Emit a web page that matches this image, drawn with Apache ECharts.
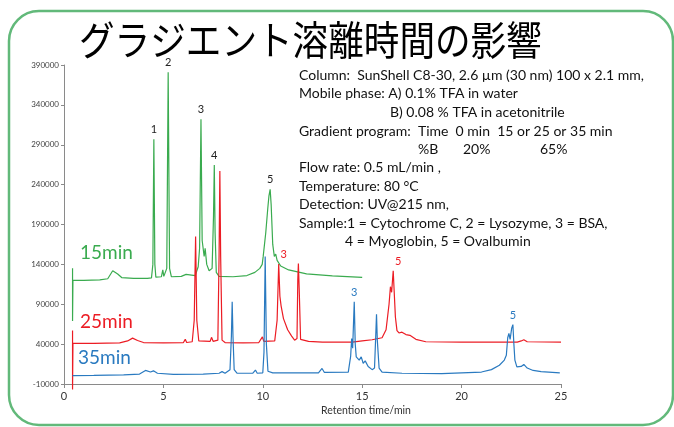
<!DOCTYPE html>
<html>
<head>
<meta charset="utf-8">
<script src="https://cdn.jsdelivr.net/npm/echarts@6/dist/echarts.min.js"></script>
<style>
  html, body { margin: 0; padding: 0; background: #fff; }
  #chart { width: 674px; height: 427px; }
</style>
</head>
<body>
<div id="chart"></div>
<script>
// retention time (min) / detector signal
const time15 = [0.43, 0.43, 0.43, 0.45, 1.0, 1.8, 2.2, 2.45, 2.55, 2.7, 2.9, 3.5, 4.2, 4.4, 4.47, 4.52, 4.57, 4.62, 4.9, 4.97, 5.02, 5.17, 5.24, 5.31, 5.4, 5.9, 6.14, 6.2, 6.6, 6.75, 6.82, 6.89, 6.95, 7.05, 7.1, 7.18, 7.3, 7.45, 7.52, 7.56, 7.6, 7.66, 7.8, 8.5, 9.2, 9.6, 9.85, 9.97, 10.02, 10.08, 10.15, 10.25, 10.31, 10.37, 10.42, 10.5, 10.58, 10.65, 10.72, 10.8, 10.9, 11.3, 12.2, 13.5, 15.0];
const signal15 = [120000, 135000, 69000, 120000, 120000, 120500, 122000, 132000, 134000, 128000, 123500, 122500, 122500, 123000, 140000, 297000, 140000, 124000, 124500, 133000, 125000, 135000, 381000, 135000, 124500, 125000, 127500, 125500, 126000, 137000, 160000, 322000, 170000, 150000, 160000, 140000, 132000, 135000, 200000, 264500, 180000, 130000, 125000, 124500, 126000, 130000, 135000, 140000, 150000, 152000, 180000, 210000, 226000, 234000, 215000, 165000, 150000, 153000, 145000, 147000, 138000, 133000, 128000, 125500, 123800];

const time25 = [0.43, 0.43, 0.43, 0.45, 1.5, 2.8, 3.2, 3.45, 3.7, 4.0, 5.0, 6.0, 6.1, 6.17, 6.45, 6.55, 6.62, 6.68, 6.78, 7.35, 7.42, 7.5, 7.74, 7.8, 7.84, 7.88, 7.95, 8.1, 9.0, 9.8, 9.98, 10.05, 10.6, 10.72, 10.8, 10.86, 10.92, 10.98, 11.04, 11.12, 11.25, 11.35, 11.45, 11.6, 11.72, 11.76, 11.79, 11.83, 11.9, 12.3, 13.0, 14.5, 15.0, 15.5, 16.0, 16.2, 16.35, 16.42, 16.48, 16.56, 16.62, 16.67, 16.75, 16.85, 17.0, 17.2, 17.4, 17.7, 18.2, 20.0, 22.8, 23.0, 23.13, 23.3, 25.0];
const signal25 = [41000, 57000, -17000, 41000, 41000, 41500, 44000, 47500, 44500, 42000, 41500, 41800, 46000, 42000, 43000, 70000, 175000, 70000, 44000, 43500, 48500, 43500, 45000, 150000, 257000, 150000, 45000, 42000, 41500, 42000, 49000, 43500, 44000, 70000, 140500, 100000, 88000, 90000, 72000, 73000, 58000, 57000, 50000, 45000, 47000, 120000, 141000, 110000, 46000, 43500, 42500, 42500, 44000, 45500, 48000, 58000, 90000, 112000, 105000, 132000, 100000, 74000, 57000, 54000, 55000, 52000, 51000, 46000, 43000, 42500, 42500, 44000, 45500, 43000, 42500];

const time35 = [0.43, 1.5, 3.0, 3.8, 4.1, 4.2, 4.35, 4.5, 4.7, 5.5, 7.0, 7.8, 7.95, 8.1, 8.35, 8.42, 8.46, 8.5, 8.56, 8.7, 9.5, 9.63, 9.72, 10.0, 10.06, 10.12, 10.18, 10.26, 10.5, 12.8, 12.98, 13.1, 14.3, 14.42, 14.47, 14.52, 14.6, 14.65, 14.7, 14.85, 14.95, 15.05, 15.15, 15.3, 15.5, 15.62, 15.68, 15.72, 15.76, 15.85, 16.0, 17.0, 19.0, 21.0, 21.5, 21.9, 22.15, 22.25, 22.32, 22.38, 22.44, 22.52, 22.58, 22.63, 22.68, 22.78, 23.0, 23.13, 23.3, 23.6, 24.0, 24.94];
const signal35 = [500, 800, 1500, 2500, 7000, 8000, 5000, 6500, 3500, 2000, 2500, 3500, 5500, 3500, 8000, 50000, 93000, 50000, 8000, 3500, 3500, 7500, 3500, 4000, 30000, 150000, 40000, 6000, 4000, 4000, 9500, 4500, 5000, 25000, 47000, 35000, 93000, 40000, 24000, 20000, 24000, 16000, 19000, 12000, 8000, 10000, 50000, 77500, 45000, 10000, 5000, 3500, 3000, 5000, 8000, 13500, 20000, 26000, 48000, 53500, 46000, 60000, 64500, 40000, 20000, 11500, 12000, 14500, 10000, 7000, 5500, 4000];

// peak numbers: [label, time, apex signal]
const peaks15 = [['1', 4.52, 297000], ['2', 5.24, 381000], ['3', 6.89, 322000], ['4', 7.56, 264500], ['5', 10.37, 234000]];
const peaks25 = [['3', 10.8, 140500], ['5', 16.56, 132000]];
const peaks35 = [['3', 14.6, 93000], ['5', 22.58, 64500]];

const yTicks = [-10000, 40000, 90000, 140000, 190000, 240000, 290000, 340000, 390000];

const GREEN = '#3aab4f';
const RED = '#ec1c24';
const BLUE = '#2a7ac0';
const LATIN = 'Lato, "Open Sans", sans-serif';

const zip = (t, v) => t.map((x, i) => [x, v[i]]);

const peakMarks = (list, color, dx) => ({
  symbolSize: 0,
  silent: true,
  label: {
    show: true, position: 'top', distance: 4, formatter: '{b}',
    color: color, fontSize: 11, fontFamily: LATIN,
  },
  data: list.map(p => ({ name: p[0], coord: [p[1], p[2]], label: { offset: [dx, 0] } })),
});

const lineSeries = (name, data, color, marks, clip) => ({
  name, type: 'line', data, showSymbol: false, clip,
  lineStyle: { color, width: 1.2 },
  itemStyle: { color },
  markPoint: marks,
  animation: false,
});

const infoLines = [
  [299, 75, 'Column:  SunShell C8-30, 2.6 µm (30 nm) 100 x 2.1 mm,'],
  [299, 93, 'Mobile phase: A) 0.1% TFA in water'],
  [390, 112, 'B) 0.08 % TFA in acetonitrile'],
  [299, 131, 'Gradient program:  Time  0 min  15 or 25 or 35 min'],
  [418, 149, '%B'],
  [463, 149, '20%'],
  [540, 149, '65%'],
  [299, 167, 'Flow rate: 0.5 mL/min ,'],
  [299, 186, 'Temperature: 80 °C'],
  [299, 204, 'Detection: UV@215 nm,'],
  [299, 223, 'Sample:1 = Cytochrome C, 2 = Lysozyme, 3 = BSA,'],
  [345, 241, '4 = Myoglobin, 5 = Ovalbumin'],
];

const chart = echarts.init(document.getElementById('chart'));
chart.setOption({
  animation: false,
  grid: { left: 64, right: 113, top: 65, bottom: 43 },
  xAxis: {
    type: 'value', min: 0, max: 25, interval: 5,
    axisLine: { show: true, onZero: false, lineStyle: { color: '#8a8a8a' } },
    axisTick: { show: true, length: 4, lineStyle: { color: '#8a8a8a' } },
    axisLabel: { color: '#333', fontSize: 11, fontFamily: LATIN, margin: 7 },
    splitLine: { show: false },
  },
  yAxis: {
    type: 'value', min: -10000, max: 390000,
    axisLine: { show: true, onZero: false, lineStyle: { color: '#8a8a8a' } },
    axisTick: { show: true, length: 3, customValues: yTicks, lineStyle: { color: '#8a8a8a' } },
    axisLabel: {
      color: '#444', fontSize: 8, fontFamily: LATIN, margin: 5,
      customValues: yTicks, formatter: v => String(v),
    },
    splitLine: { show: false },
  },
  series: [
    lineSeries('15min', zip(time15, signal15), GREEN, peakMarks(peaks15, '#222', 0), true),
    lineSeries('25min', zip(time25, signal25), RED, peakMarks(peaks25, RED, 5), false),
    lineSeries('35min', zip(time35, signal35), BLUE, peakMarks(peaks35, BLUE, 0), true),
  ],
  graphic: [
    {
      type: 'rect', silent: true, z: -1,
      shape: { x: 9, y: 11, width: 664, height: 414, r: 30 },
      style: { fill: 'none', stroke: '#62b97a', lineWidth: 2.5 },
    },
    {
      type: 'text', x: 79, y: 40, scaleX: 0.89,
      style: {
        text: 'グラジエント溶離時間の影響', fill: '#000',
        font: '40px "Noto Sans CJK JP"', textVerticalAlign: 'middle',
      },
    },
    ...infoLines.map(l => ({
      type: 'text', x: l[0], y: l[1],
      style: { text: l[2], fill: '#111', font: '14px ' + LATIN, textVerticalAlign: 'middle' },
    })),
    { type: 'text', x: 80, y: 253, style: { text: '15min', fill: GREEN, font: '19px ' + LATIN, textVerticalAlign: 'middle' } },
    { type: 'text', x: 80, y: 322, style: { text: '25min', fill: RED, font: '19px ' + LATIN, textVerticalAlign: 'middle' } },
    { type: 'text', x: 78, y: 358, style: { text: '35min', fill: BLUE, font: '19px ' + LATIN, textVerticalAlign: 'middle' } },
    {
      type: 'text', x: 366, y: 411,
      style: { text: 'Retention time/min', fill: '#333', font: '10.5px ' + LATIN, textAlign: 'center', textVerticalAlign: 'middle' },
    },
  ],
});
</script>
</body>
</html>
